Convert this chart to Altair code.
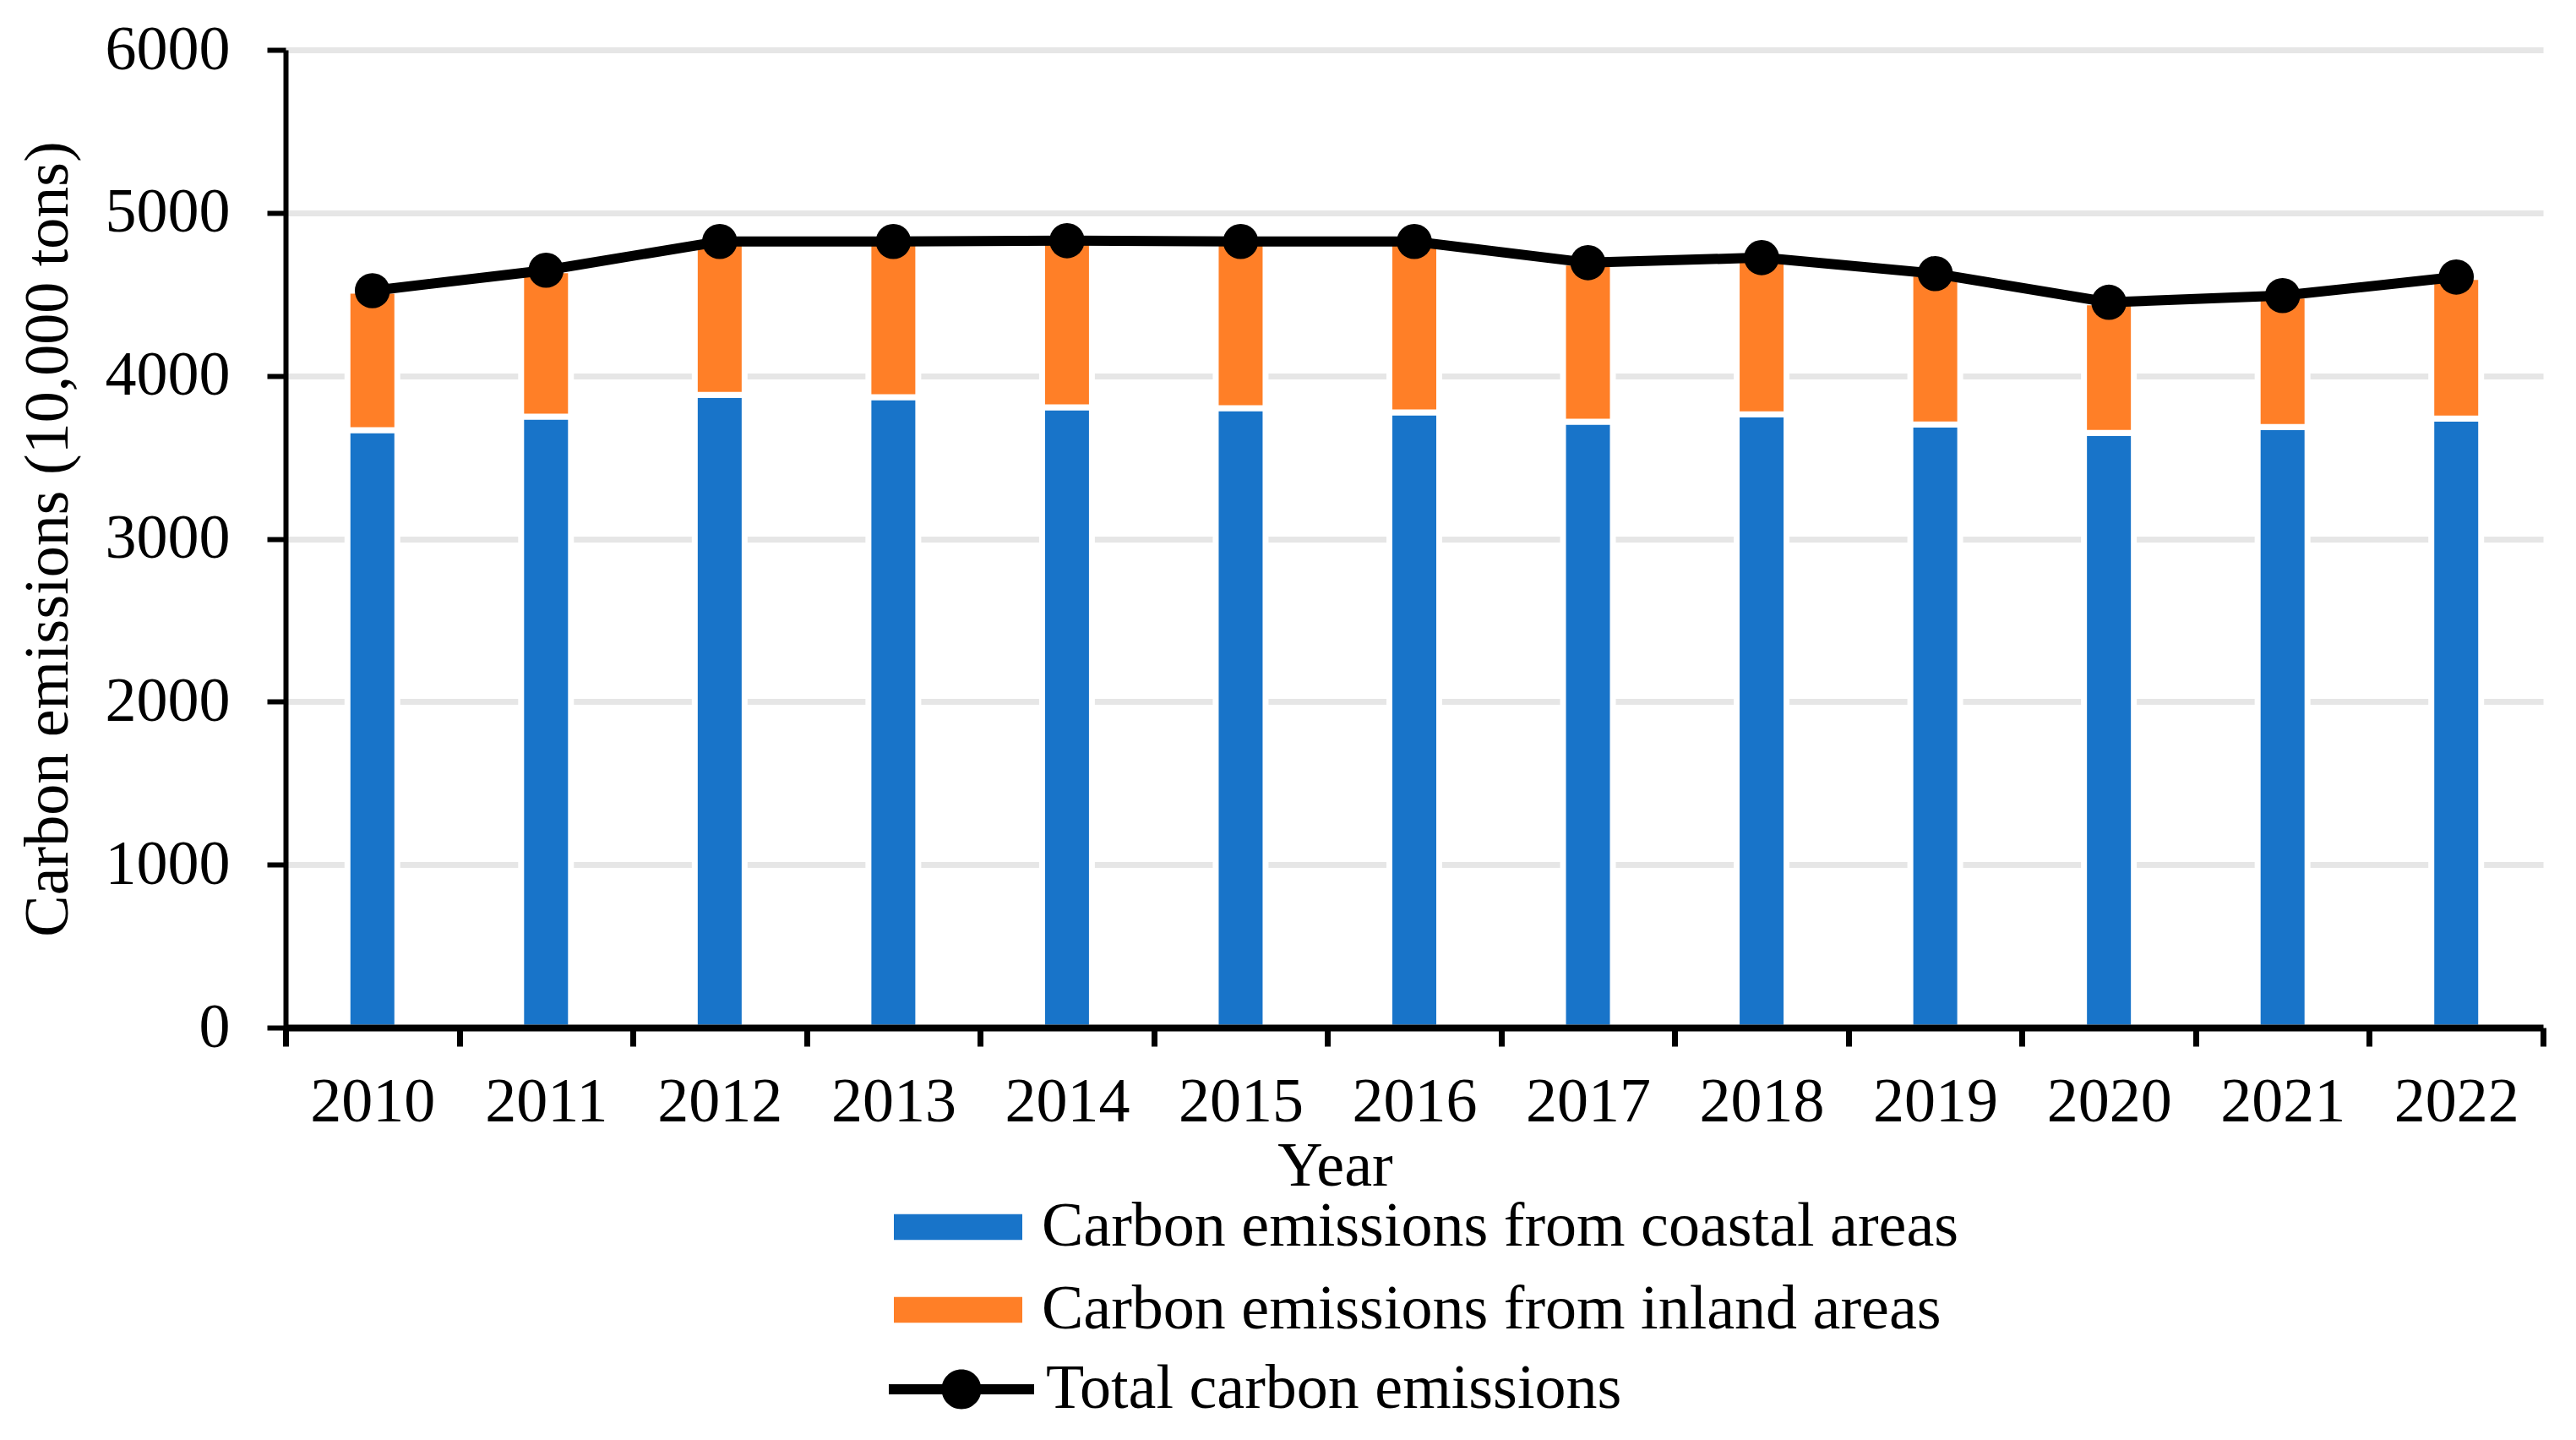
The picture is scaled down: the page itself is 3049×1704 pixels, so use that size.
import altair as alt
import pandas as pd

years = ["2010", "2011", "2012", "2013", "2014", "2015", "2016",
         "2017", "2018", "2019", "2020", "2021", "2022"]
coastal = [3666, 3749, 3883, 3868, 3807, 3801, 3775, 3718, 3764, 3702, 3650, 3686, 3738]
inland = [856, 899, 941, 956, 1022, 1023, 1049, 976, 961, 925, 801, 806, 868]
total = [4522, 4648, 4824, 4824, 4829, 4824, 4824, 4694, 4725, 4627, 4451, 4492, 4606]
y_ticks = [0, 1000, 2000, 3000, 4000, 5000, 6000]

S_COAST = "Carbon emissions from coastal areas"
S_INLAND = "Carbon emissions from inland areas"
S_TOTAL = "Total carbon emissions"

BLUE = "#1874C9"
ORANGE = "#FF7F27"
FONT = "Liberation Serif"
FS = 74

coast_df = pd.DataFrame({"year": years, "value": coastal, "series": [S_COAST] * len(years)})
inland_df = pd.DataFrame({
    "year": years, "base": coastal, "inland": inland,
    "series": [S_INLAND] * len(years),
})
line_df = pd.DataFrame({"year": years, "value": total, "series": [S_TOTAL] * len(years)})

x_enc = alt.X(
    "year:N", sort=years,
    scale=alt.Scale(paddingInner=0, paddingOuter=0),
    axis=alt.Axis(
        title="Year", labelAngle=0, tickBand="extent",
        labelFont=FONT, labelFontSize=FS, labelColor="black", labelPadding=30,
        titleFont=FONT, titleFontSize=FS, titleColor="black", titleFontWeight="normal",
        titleX=1242, titleY=186, titleBaseline="alphabetic", titleAlign="center",
        domainColor="black", domainWidth=8, tickColor="black", tickWidth=7, tickSize=22,
        grid=False, zindex=1,
    ),
)

y_axis = alt.Axis(
    title="Carbon emissions (10,000 tons)", values=y_ticks, format="d",
    labelFont=FONT, labelFontSize=FS, labelColor="black", labelPadding=44,
    titleFont=FONT, titleFontSize=FS, titleColor="black", titleFontWeight="normal",
    titlePadding=43,
    domainColor="black", domainWidth=6, tickColor="black", tickWidth=6, tickSize=22,
    grid=True, gridColor="#E6E6E6", gridWidth=7,
)
y_scale = alt.Scale(domain=[0, 6000], nice=False)

rect_path = "M-1,-0.2L1,-0.2L1,0.2L-1,0.2Z"
line_path = ("M-1,-0.07L1,-0.07L1,0.07L-1,0.07Z "
             "M0.273,0A0.273,0.273 0 1,1 -0.273,0A0.273,0.273 0 1,1 0.273,0Z")


def legend(lx, ly, path, size, offset):
    return alt.Legend(
        title=None, orient="none", legendX=lx, legendY=ly,
        direction="vertical", padding=0,
        labelFont=FONT, labelFontSize=FS, labelColor="black", labelLimit=0,
        labelOffset=offset, symbolType=path, symbolSize=size,
        symbolStrokeWidth=0, symbolOpacity=1,
    )


bars_coast = alt.Chart(coast_df).mark_bar(width=59, stroke="white", strokeWidth=7).encode(
    x=x_enc,
    y=alt.Y("value:Q", scale=y_scale, axis=y_axis),
    color=alt.Color("series:N", scale=alt.Scale(domain=[S_COAST], range=[BLUE]),
                    legend=legend(720, 1317, rect_path, 23104, 23)),
)

bars_inland = alt.Chart(inland_df).transform_calculate(
    top="datum.base + datum.inland"
).mark_bar(width=59, stroke="white", strokeWidth=7).encode(
    x=alt.X("year:N", sort=years),
    y=alt.Y("base:Q", scale=y_scale, axis=y_axis),
    y2="top:Q",
    color=alt.Color("series:N", scale=alt.Scale(domain=[S_INLAND], range=[ORANGE]),
                    legend=legend(720, 1415, rect_path, 23104, 23)),
)

line = alt.Chart(line_df).mark_line(color="black", strokeWidth=12).encode(
    x=alt.X("year:N", sort=years),
    y=alt.Y("value:Q", scale=y_scale, axis=y_axis),
)

points = alt.Chart(line_df).mark_point(filled=True, size=1735, opacity=1).encode(
    x=alt.X("year:N", sort=years),
    y=alt.Y("value:Q", scale=y_scale, axis=y_axis),
    color=alt.Color("series:N", scale=alt.Scale(domain=[S_TOTAL], range=["black"]),
                    legend=legend(714, 1499, line_path, 29584, 14)),
)

chart = alt.layer(bars_coast, bars_inland, line, points).resolve_scale(
    color="independent"
).properties(
    width=2672, height=1157,
    autosize=alt.AutoSizeParams(type="none"),
    padding={"left": 330, "top": 51, "right": 25, "bottom": 470},
    background="white",
).configure_view(stroke=None)

chart.save("out.html", embed_options={"renderer": "svg", "actions": False})
